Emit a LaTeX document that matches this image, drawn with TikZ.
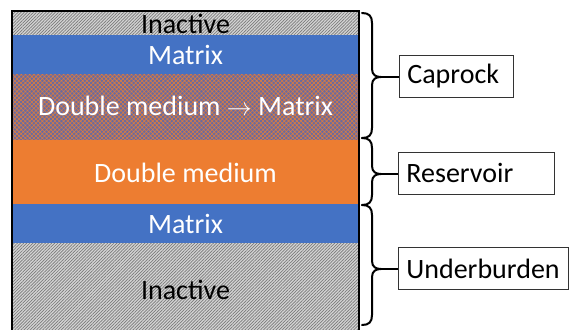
\documentclass[tikz,border=0pt]{standalone}
\usepackage{fontspec}
\setmainfont{Carlito}
\usetikzlibrary{patterns.meta}
\definecolor{mblue}{HTML}{4472C4}
\definecolor{morange}{HTML}{ED7D31}
\definecolor{igray}{HTML}{D4D4D4}
\definecolor{ihatch}{HTML}{7A7A7A}
\definecolor{mixbase}{HTML}{6A6AA0}
\tikzset{
  inactive/.style={fill=igray, postaction={pattern={Lines[angle=45,distance=2.2pt,line width=0.7pt]}, pattern color=ihatch}},
  mixed/.style={fill=mixbase, postaction={pattern={Hatch[angle=45,distance=3pt,line width=0.55pt]}, pattern color=morange!85!gray}},
  layertext/.style={font=\fontsize{28}{31}\selectfont, inner sep=0pt},
  labelbox/.style={draw=black!80, line width=0.8pt, anchor=north west, minimum height=42pt, inner xsep=8pt, inner ysep=0pt, align=left, font=\fontsize{28}{31}\selectfont},
  bracestyle/.style={draw=black, line width=2pt, line join=round, line cap=round},
  link/.style={draw=black, line width=2pt}
}
\begin{document}
\begin{tikzpicture}[x=1pt,y=-1pt]
\useasboundingbox (0,0) rectangle (569,329);
% layers
\path[inactive] (12,11) rectangle (359,35);
\path[fill=mblue] (12,35) rectangle (359,74);
\path[mixed] (12,74) rectangle (359,140);
\path[fill=morange] (12,140) rectangle (359,204);
\path[fill=mblue] (12,204) rectangle (359,243);
\path[inactive] (12,243) rectangle (359,331);
% layer texts
\node[layertext, text=black] (t1) at (185.5,24) {Inactive};
\node[layertext, text=white] (t2) at (185.5,55) {Matrix};
\node[layertext, text=white] (t3) at (185.5,106) {Double medium $\rightarrow$ Matrix};
\node[layertext, text=white] (t4) at (185.5,173) {Double medium};
\node[layertext, text=white] (t5) at (185.5,224) {Matrix};
\node[layertext, text=black] (t6) at (185.5,290) {Inactive};
% border
\draw[line width=2.2pt] (12,331) -- (12,11) -- (359,11) -- (359,331);
% braces
\newcommand{\mybrace}[3]{%
  \draw[bracestyle] (362,#1) .. controls (369,#1) and (372,#1+3) .. (372,#1+10)
    -- (372,#2-8) .. controls (372,#2-2) and (376,#2) .. (381,#2)
    .. controls (376,#2) and (372,#2+2) .. (372,#2+8)
    -- (372,#3-10) .. controls (372,#3-3) and (369,#3) .. (362,#3);}
\mybrace{13}{77}{138}
\mybrace{138}{174}{205}
\mybrace{205}{269}{325}
\coordinate (b1) at (381,77);
\coordinate (b2) at (381,174);
\coordinate (b3) at (381,269);
% label boxes
\node[labelbox, minimum width=114pt, text width=98pt] (cap) at (399,55) {Caprock};
\node[labelbox, minimum width=156pt, text width=140pt] (res) at (398,152) {Reservoir};
\node[labelbox, minimum width=170pt, text width=154pt] (und) at (398,247) {Underburden};
\draw[link] (b1) -- (b1 -| cap.west);
\draw[link] (b2) -- (b2 -| res.west);
\draw[link] (b3) -- (b3 -| und.west);
\end{tikzpicture}
\end{document}
